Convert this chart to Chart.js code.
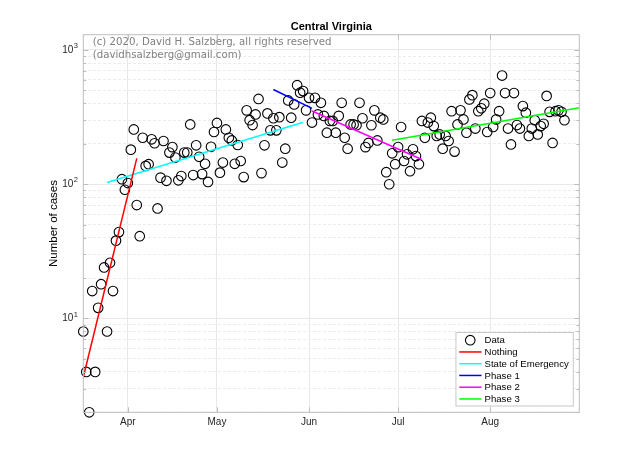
<!DOCTYPE html>
<html>
<head>
<meta charset="utf-8">
<script src="https://cdn.jsdelivr.net/npm/chart.js@4.4.0/dist/chart.umd.min.js"></script>
<style>
    html, body { margin: 0; padding: 0; background: #fff; }
</style>
</head>
<body>
<canvas id="casesChart" width="640" height="463"></canvas>
<script>
// Daily new cases in Central Virginia, one value per day
const firstDay = -15; // days relative to Apr 1 (Mar 17)
const cases = [
    8, 4, 2, 16, 4, 12, 18, 24, 8, 26,
    16, 38, 44, 109, 91, 102, 181, 256, 70, 41,
    222, 137, 141, 216, 202, 66, 112, 210, 106, 172,
    189, 158, 107, 115, 172, 172, 279, 117, 195, 160,
    119, 142, 104, 190, 245, 286, 122, 145, 256, 222,
    212, 142, 196, 149, 113, 355, 300, 276, 331, 432,
    121, 195, 337, 252, 310, 252, 316, 145, 184, 421,
    313, 393, 547, 481, 494, 355, 440, 288, 440, 331,
    404, 323, 242, 296, 296, 242, 323, 404, 222, 184,
    279, 279, 275, 404, 310, 189, 203, 275, 355, 212,
    313, 304, 123, 100, 170, 141, 189, 267, 149, 167,
    125, 182, 162, 141, 296, 222, 288, 313, 271, 229,
    235, 184, 229, 210, 350, 175, 279, 355, 304, 242,
    428, 461, 260, 350, 368, 398, 245, 478, 267, 304,
    350, 645, 478, 260, 198, 478, 276, 260, 382, 341,
    229, 260, 300, 235, 271, 282, 455, 346, 203, 350,
    355, 346, 300
];

// Fitted trend per period: [day, cases] at each end
const fitNothing = [[-15, 3.65], [3, 156]];
const fitEmergency = [[-7, 103], [59, 290]];
const fitPhase1 = [[49, 508], [62, 367]];
const fitPhase2 = [[62, 351], [99, 153]];
const fitPhase3 = [[89, 213], [152, 371]];

const monthTicks = [0, 30, 61, 91, 122];
const monthLabels = ['Apr', 'May', 'Jun', 'Jul', 'Aug'];
const yTickValues = [10, 100, 1000];
const yTickBase = '10';
const yTickExponents = ['1', '2', '3'];
const noteLines = ['(c) 2020, David H. Salzberg, all rights reserved', '(davidhsalzberg@gmail.com)'];

const isDecade = v => Math.abs(Math.log10(v) - Math.round(Math.log10(v))) < 1e-9;

function fitLine(label, pts, color) {
    return {
        label: label,
        type: 'line',
        data: pts.map(p => ({ x: p[0], y: p[1] })),
        borderColor: color,
        backgroundColor: color,
        borderWidth: 1.5,
        pointRadius: 0,
        fill: false,
        order: 0
    };
}

// Copyright note in the top left corner of the axes
const notePlugin = {
    id: 'note',
    afterDatasetsDraw(chart) {
        const { ctx, chartArea } = chart;
        ctx.save();
        ctx.font = '10.2px "DejaVu Sans"';
        ctx.fillStyle = '#808080';
        ctx.textBaseline = 'middle';
        noteLines.forEach((t, i) => ctx.fillText(t, chartArea.left + 9.4, 42.7 + i * 12.3));
        ctx.restore();
    }
};

// MATLAB style box with inward ticks, exponents on the y labels, legend in the lower right
const boxLegendPlugin = {
    id: 'boxLegend',
    afterDraw(chart) {
        const { ctx, chartArea } = chart;
        const yScale = chart.scales.y;
        const xScale = chart.scales.x;
        ctx.save();
        ctx.strokeStyle = '#bdbdbd';
        ctx.lineWidth = 1;
        ctx.strokeRect(chartArea.left, chartArea.top, chartArea.right - chartArea.left, chartArea.bottom - chartArea.top);

        ctx.beginPath();
        yScale.ticks.forEach(t => {
            const py = Math.round(yScale.getPixelForValue(t.value)) + 0.5;
            const len = isDecade(t.value) ? 5 : 3;
            ctx.moveTo(chartArea.left, py);
            ctx.lineTo(chartArea.left + len, py);
            ctx.moveTo(chartArea.right, py);
            ctx.lineTo(chartArea.right - len, py);
        });
        xScale.ticks.forEach(t => {
            const px = Math.round(xScale.getPixelForValue(t.value)) + 0.5;
            ctx.moveTo(px, chartArea.bottom);
            ctx.lineTo(px, chartArea.bottom - 5);
            ctx.moveTo(px, chartArea.top);
            ctx.lineTo(px, chartArea.top + 5);
        });
        ctx.stroke();

        // superscript exponents after the "10" labels
        ctx.font = '7.5px "Liberation Sans"';
        ctx.fillStyle = '#262626';
        ctx.textBaseline = 'middle';
        ctx.textAlign = 'left';
        yTickValues.forEach((v, i) => {
            const py = yScale.getPixelForValue(v);
            ctx.fillText(yTickExponents[i], chartArea.left - 9.6, py - 3.8);
        });

        const sets = chart.data.datasets;
        ctx.font = '9.6px "Liberation Sans"';
        const maxW = Math.max(...sets.map(d => ctx.measureText(d.label).width));
        const rowH = 11.75;
        const w = 28.6 + maxW + 4.5;
        const h = rowH * sets.length + 3;
        const x0 = chartArea.right - 6 - w;
        const y0 = chartArea.bottom - 6.3 - h;

        ctx.fillStyle = '#fff';
        ctx.fillRect(x0, y0, w, h);
        ctx.strokeStyle = '#c8c8c8';
        ctx.lineWidth = 1;
        ctx.strokeRect(x0, y0, w, h);

        sets.forEach((d, i) => {
            const cy = y0 + 7.7 + i * rowH;
            if (d.type === 'line') {
                ctx.strokeStyle = d.borderColor;
                ctx.lineWidth = 1.5;
                ctx.beginPath();
                ctx.moveTo(x0 + 3.3, cy);
                ctx.lineTo(x0 + 25.6, cy);
                ctx.stroke();
            } else {
                ctx.strokeStyle = '#000';
                ctx.lineWidth = 1.1;
                ctx.beginPath();
                ctx.arc(x0 + 14.3, cy, 4.8, 0, Math.PI * 2);
                ctx.stroke();
            }
            ctx.fillStyle = '#000';
            ctx.fillText(d.label, x0 + 28.6, cy + 0.5);
        });
        ctx.restore();
    }
};

const ctx = document.getElementById('casesChart').getContext('2d');
const chart = new Chart(ctx, {
    type: 'scatter',
    data: {
        datasets: [
            {
                label: 'Data',
                type: 'scatter',
                data: cases.map((c, i) => ({ x: firstDay + i, y: c })),
                pointStyle: 'circle',
                pointRadius: 4.8,
                borderWidth: 1.1,
                borderColor: '#000',
                backgroundColor: 'rgba(0,0,0,0)',
                clip: false,
                order: 1
            },
            fitLine('Nothing', fitNothing, '#ff0000'),
            fitLine('State of Emergency', fitEmergency, '#00ffff'),
            fitLine('Phase 1', fitPhase1, '#0000ff'),
            fitLine('Phase 2', fitPhase2, '#ff00ff'),
            fitLine('Phase 3', fitPhase3, '#00ff00')
        ]
    },
    options: {
        responsive: false,
        animation: false,
        events: [],
        layout: { padding: { left: 47, right: 60.7, top: 0, bottom: 0 } },
        plugins: {
            legend: { display: false },
            tooltip: { enabled: false },
            title: {
                display: true,
                text: 'Central Virginia',
                fullSize: false,
                color: '#000',
                font: { family: 'Liberation Sans', size: 11, weight: 'bold' },
                padding: { top: 20, bottom: 1.5 }
            }
        },
        scales: {
            x: {
                type: 'linear',
                min: -15,
                max: 152,
                afterBuildTicks: scale => {
                    scale.ticks = monthTicks.map(v => ({ value: v }));
                },
                afterFit: scale => { scale.height = 50.7; },
                ticks: {
                    autoSkip: false,
                    maxRotation: 0,
                    padding: 4,
                    color: '#262626',
                    font: { family: 'Liberation Sans', size: 10 },
                    callback: v => monthLabels[monthTicks.indexOf(v)]
                },
                grid: { color: '#e8e8e8', lineWidth: 1, drawTicks: false },
                border: { display: false }
            },
            y: {
                type: 'logarithmic',
                min: 2,
                max: 1300,
                afterBuildTicks: scale => {
                    const t = [];
                    [1, 10, 100].forEach(dec => {
                        for (let m = 1; m <= 9; m++) {
                            const v = m * dec;
                            if (v >= 2) t.push({ value: v, major: m === 1 });
                        }
                    });
                    t.push({ value: 1000, major: true });
                    scale.ticks = t;
                },
                afterFit: scale => { scale.width = 36.3; },
                ticks: {
                    autoSkip: false,
                    padding: 10,
                    color: '#262626',
                    font: { family: 'Liberation Sans', size: 10 },
                    callback: v => (yTickValues.indexOf(v) >= 0 ? yTickBase : '')
                },
                title: {
                    display: true,
                    text: 'Number of cases',
                    color: '#000',
                    padding: 0,
                    font: { family: 'Liberation Sans', size: 11.5 }
                },
                grid: {
                    drawTicks: false,
                    lineWidth: 1,
                    color: c => (c.tick && isDecade(c.tick.value)) ? '#e8e8e8' : '#ececec'
                },
                border: {
                    display: false,
                    dash: c => (c.tick && isDecade(c.tick.value)) ? [] : [3, 2]
                }
            }
        }
    },
    plugins: [notePlugin, boxLegendPlugin]
});
</script>
</body>
</html>
